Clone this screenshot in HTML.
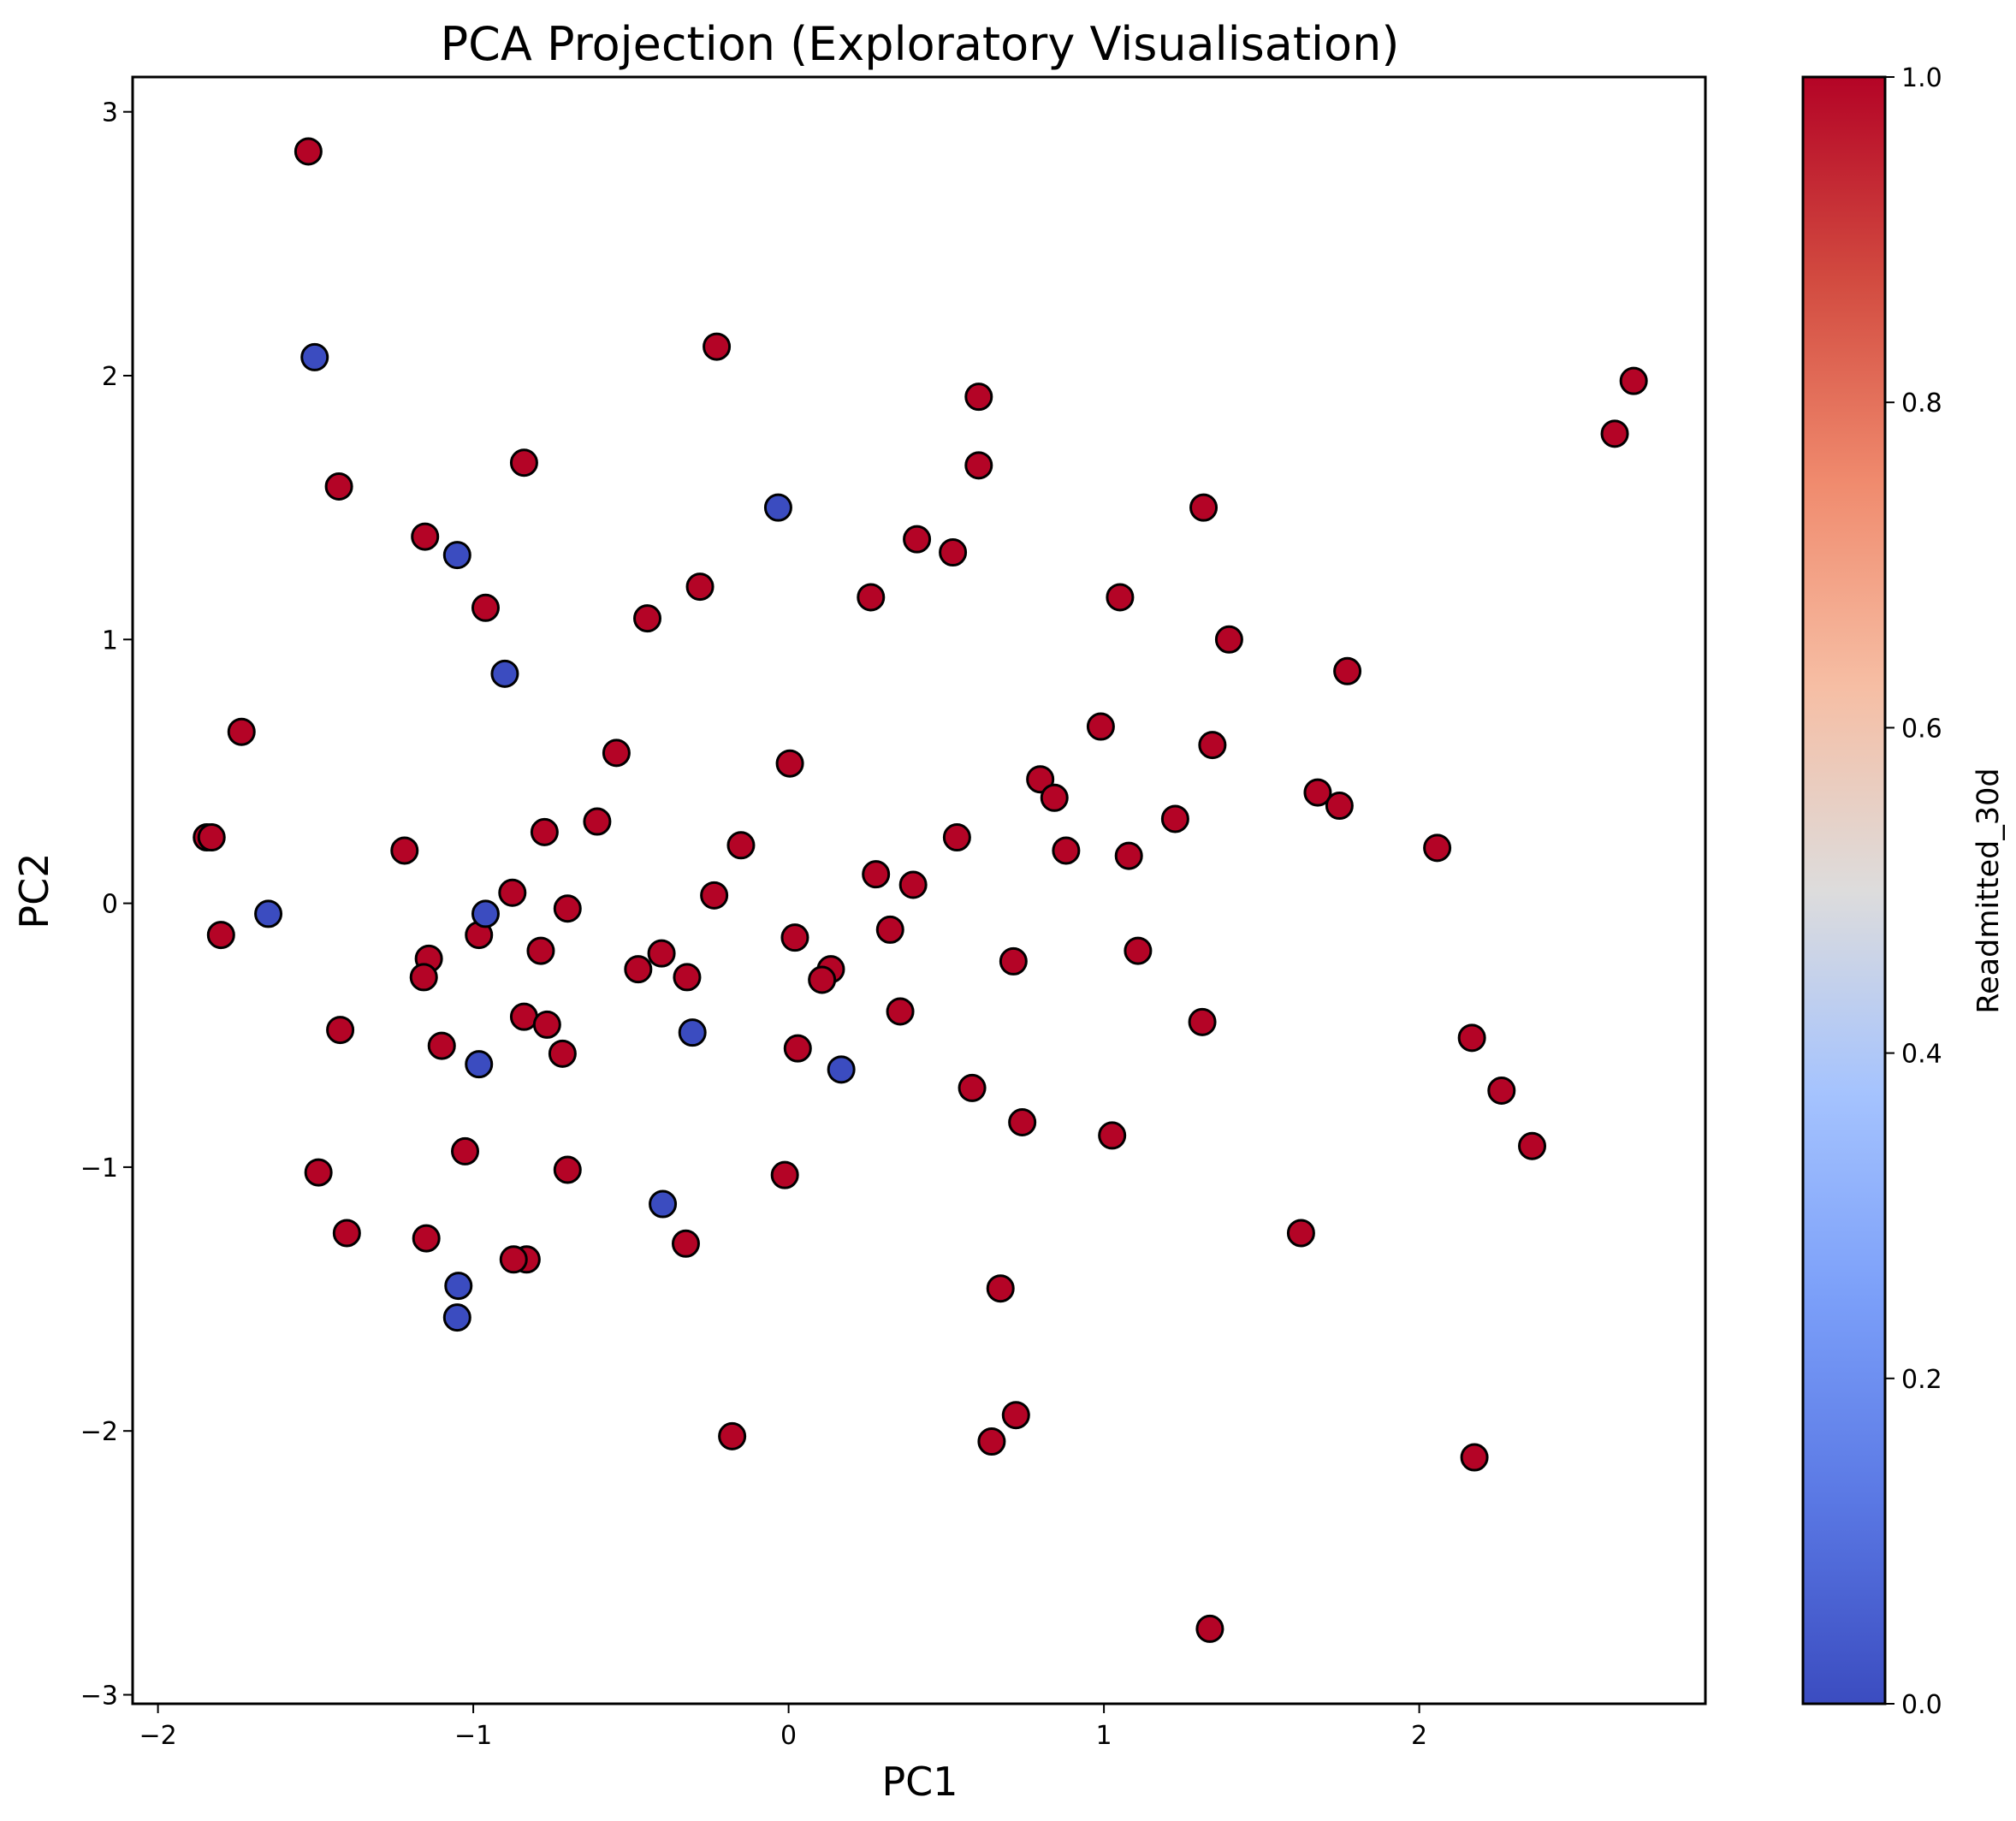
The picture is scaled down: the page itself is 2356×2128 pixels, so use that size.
<!DOCTYPE html>
<html><head><meta charset="utf-8"><style>
body{margin:0;background:#fff}
svg text{font-family:"DejaVu Sans","Liberation Sans",sans-serif;fill:#000}
</style></head><body>
<svg width="2356" height="2123" viewBox="0 0 2356 2123" xmlns="http://www.w3.org/2000/svg">
<defs>
<linearGradient id="cw" x1="0" y1="1" x2="0" y2="0">
<stop offset="0" stop-color="#3b4cc0"/><stop offset="0.125" stop-color="#5a78e4"/>
<stop offset="0.25" stop-color="#7b9ff9"/><stop offset="0.375" stop-color="#a5c3fe"/>
<stop offset="0.5" stop-color="#dddcdc"/><stop offset="0.625" stop-color="#f6bea4"/>
<stop offset="0.75" stop-color="#f08b6e"/><stop offset="0.875" stop-color="#d24b40"/>
<stop offset="1" stop-color="#b40426"/></linearGradient></defs>
<g id="axes"></g>
<text x="1075" y="70" font-size="54" text-anchor="middle">PCA Projection (Exploratory Visualisation)</text>
<text x="1075" y="2098" font-size="46" text-anchor="middle">PC1</text>
<text x="0" y="0" font-size="46" text-anchor="middle" transform="translate(56,1041) rotate(-90)">PC2</text>
<rect x="2107" y="90" width="96" height="1901" fill="url(#cw)" stroke="#000" stroke-width="3"/>
<text x="0" y="0" font-size="35" text-anchor="middle" transform="translate(2335,1041) rotate(-90)">Readmitted_30d</text>
</svg>
<script>
const xs=[-1.523,-0.228,0.603,0.603,2.68,2.62,-1.426,-0.839,-1.153,1.316,0.407,0.521,-0.281,0.261,1.051,-0.961,-0.448,1.397,1.772,-1.735,0.990,1.344,-0.546,0.004,0.798,0.843,1.678,1.747,-0.607,1.226,-0.774,-1.845,-1.83,-0.151,0.534,-1.218,0.880,2.057,1.079,0.277,-0.236,0.395,-0.876,-0.701,-1.800,-0.982,0.020,0.322,-1.141,-0.786,1.108,-0.403,-0.477,0.134,-1.157,0.106,0.713,-0.322,0.354,-1.422,-0.839,-0.766,1.312,-1.100,-0.717,0.029,2.167,0.582,2.261,0.741,1.026,2.358,-1.026,-1.491,-0.701,-0.012,-1.401,-1.149,1.625,-0.326,-0.831,-0.872,0.672,0.721,-0.179,0.644,2.175,1.336,
-1.503,-0.033,-1.051,-0.900,-1.650,-0.961,-0.305,-0.982,0.167,-0.399,-1.047,-1.051];
const ys=[2.85,2.11,1.92,1.66,1.98,1.78,1.58,1.67,1.39,1.50,1.38,1.33,1.20,1.16,1.16,1.12,1.08,1.00,0.88,0.65,0.67,0.60,0.57,0.53,0.47,0.40,0.42,0.37,0.31,0.32,0.27,0.25,0.25,0.22,0.25,0.20,0.20,0.21,0.18,0.11,0.03,0.07,0.04,-0.02,-0.12,-0.12,-0.13,-0.10,-0.21,-0.18,-0.18,-0.19,-0.25,-0.25,-0.28,-0.29,-0.22,-0.28,-0.41,-0.48,-0.43,-0.46,-0.45,-0.54,-0.57,-0.55,-0.51,-0.70,-0.71,-0.83,-0.88,-0.92,-0.94,-1.02,-1.01,-1.03,-1.25,-1.27,-1.25,-1.29,-1.35,-1.35,-1.46,-1.94,-2.02,-2.04,-2.10,-2.75,
2.07,1.50,1.32,0.87,-0.04,-0.04,-0.49,-0.61,-0.63,-1.14,-1.45,-1.57];
const labels=[];for(let i=0;i<88;i++)labels.push(1);for(let i=0;i<12;i++)labels.push(0);
const xTicks=[-2,-1,0,1,2];
const yTicks=[-3,-2,-1,0,1,2,3];
const cTicks=[0,0.2,0.4,0.6,0.8,1.0];
const L=155,R=1993,T=90,B=1991;
const sx=v=>921.6+v*368.5, sy=v=>1055.6-v*308.3, sc=v=>B-v*(B-T);
const NS='http://www.w3.org/2000/svg';
const g=document.getElementById('axes');
function mk(t,a,p){const e=document.createElementNS(NS,t);for(const k in a)e.setAttribute(k,a[k]);(p||g).appendChild(e);return e;}
const fmt=v=>(v<0?'\u2212':'')+Math.abs(v);
xs.forEach((x,i)=>{const c=mk('circle',{cx:sx(x),cy:sy(ys[i]),r:15,fill:labels[i]?'#b40426':'#3b4cc0',stroke:'#000','stroke-width':3});

});
const fr=mk('rect',{x:L,y:T,width:R-L,height:B-T,fill:'none',stroke:'#000','stroke-width':3});


xTicks.forEach(v=>{mk('line',{x1:sx(v),x2:sx(v),y1:B,y2:B+11,stroke:'#000','stroke-width':2});
const t=mk('text',{x:sx(v),y:B+47,'font-size':30,'text-anchor':'middle'});t.textContent=fmt(v);

});
yTicks.forEach(v=>{mk('line',{x1:L-11,x2:L,y1:sy(v),y2:sy(v),stroke:'#000','stroke-width':2});
const t=mk('text',{x:L-17,y:sy(v)+11,'font-size':30,'text-anchor':'end'});t.textContent=fmt(v);

});
cTicks.forEach(v=>{mk('line',{x1:2203,x2:2214,y1:sc(v),y2:sc(v),stroke:'#000','stroke-width':2});
const t=mk('text',{x:2222,y:sc(v)+11,'font-size':30});t.textContent=v.toFixed(1);

});
</script>
</body></html>
